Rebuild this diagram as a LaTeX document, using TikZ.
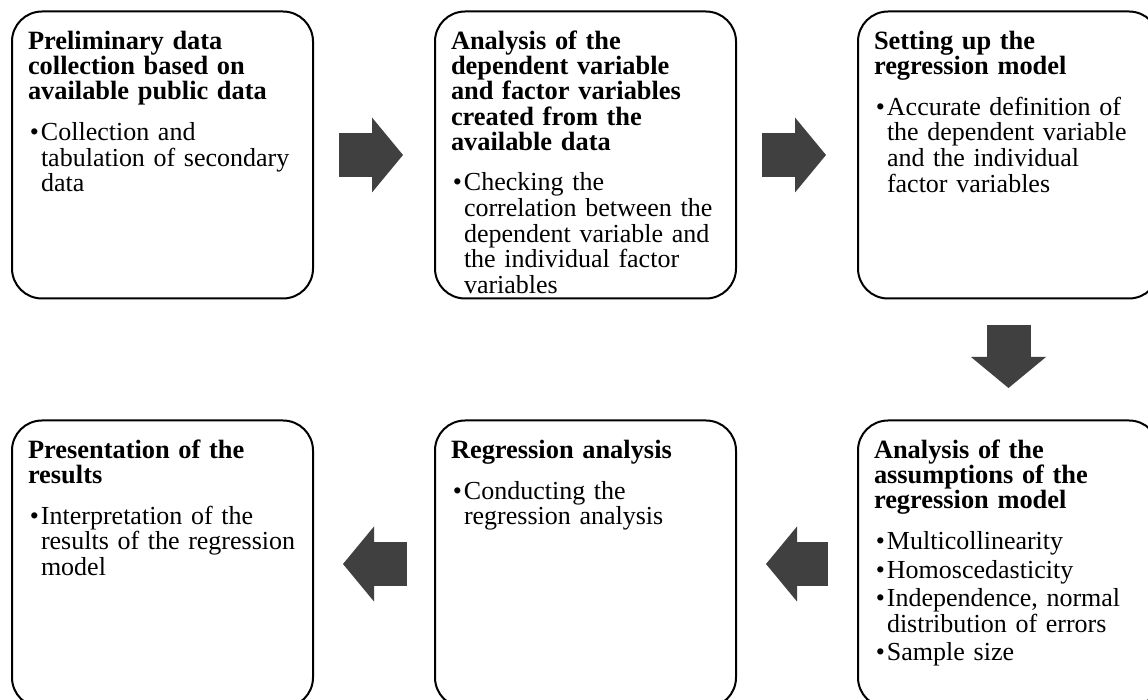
\documentclass[tikz,border=0pt]{standalone}
\usepackage{fontspec}
\setmainfont{Liberation Serif}
\usetikzlibrary{positioning, arrows.meta}
\definecolor{fDark}{HTML}{404040}
\newcommand{\stephead}[1]{\noindent\rule{0pt}{9.5pt}{\fontsize{13.2}{12.6}\selectfont\bfseries #1\par}\vspace{6pt}}
\newcommand{\stepitem}[1]{\hangindent=6.5pt\hangafter=0\noindent\llap{\textbullet\hspace{1pt}}#1\par}
\tikzset{
  stepbox/.style={draw=black, line width=1pt, rounded corners=15pt, fill=white,
    minimum width=150.5pt, minimum height=143.5pt, inner sep=0pt},
  steptext/.style={inner sep=0pt, outer sep=0pt, text width=140pt, align=left,
    font=\fontsize{13}{12.8}\selectfont,
    execute at begin node=\setlength{\parskip}{1.5pt}},
  flowarrow/.style={draw=fDark, line width=22pt,
    -{Triangle[length=15.5pt, width=37.5pt, line width=0pt]},
    shorten <=12.5pt, shorten >=15.5pt},
}

\begin{document}
\begin{tikzpicture}
  \useasboundingbox (0,0) rectangle (574pt,-350pt);
  % boxes
  \node[stepbox] (b1) at (81.25pt,-77.5pt) {};
  \node[stepbox, right=60pt of b1] (b2) {};
  \node[stepbox, right=60pt of b2] (b3) {};
  \node[stepbox, below=60pt of b3] (b6) {};
  \node[stepbox, left=60pt of b6] (b5) {};
  \node[stepbox, left=60pt of b5] (b4) {};

  % texts
  \node[steptext, below right=10pt and 8.5pt of b1.north west] (t1)
    {\stephead{Preliminary data\newline collection based on\newline available public data}%
     \stepitem{Collection and\newline tabulation of secondary\newline data}};
  \begin{scope}
    \clip[rounded corners=15pt] (b2.north west) rectangle (b2.south east);
    \node[steptext, below right=10pt and 8.5pt of b2.north west] (t2)
      {\stephead{Analysis of the\newline dependent variable\newline and factor variables\newline created from the\newline available data}%
       \stepitem{Checking the\newline correlation between the\newline dependent variable and\newline the individual factor\newline variables}};
  \end{scope}
  \node[steptext, below right=10pt and 8.5pt of b3.north west] (t3)
    {\stephead{Setting up the\newline regression model}%
     \stepitem{Accurate definition of\newline the dependent variable\newline and the individual\newline factor variables}};
  \node[steptext, below right=10pt and 8.5pt of b6.north west] (t6)
    {\stephead{Analysis of the\newline assumptions of the\newline regression model}%
     \stepitem{Multicollinearity}%
     \stepitem{Homoscedasticity}%
     \stepitem{Independence, normal\newline distribution of errors}%
     \stepitem{Sample size}};
  \node[steptext, below right=10pt and 8.5pt of b5.north west] (t5)
    {\stephead{Regression analysis}%
     \stepitem{Conducting the\newline regression analysis}};
  \node[steptext, below right=10pt and 8.5pt of b4.north west] (t4)
    {\stephead{Presentation of the\newline results}%
     \stepitem{Interpretation of the\newline results of the regression\newline model}};

  % arrows
  \draw[flowarrow] (b1) -- (b2);
  \draw[flowarrow] (b2) -- (b3);
  \draw[flowarrow, shorten <=12.75pt, shorten >=15.75pt] (b3) -- (b6);
  \draw[flowarrow, shorten <=14.5pt, shorten >=14.5pt] (b6) -- (b5);
  \draw[flowarrow, shorten <=13.5pt, shorten >=14.5pt] (b5) -- (b4);
\end{tikzpicture}
\end{document}
